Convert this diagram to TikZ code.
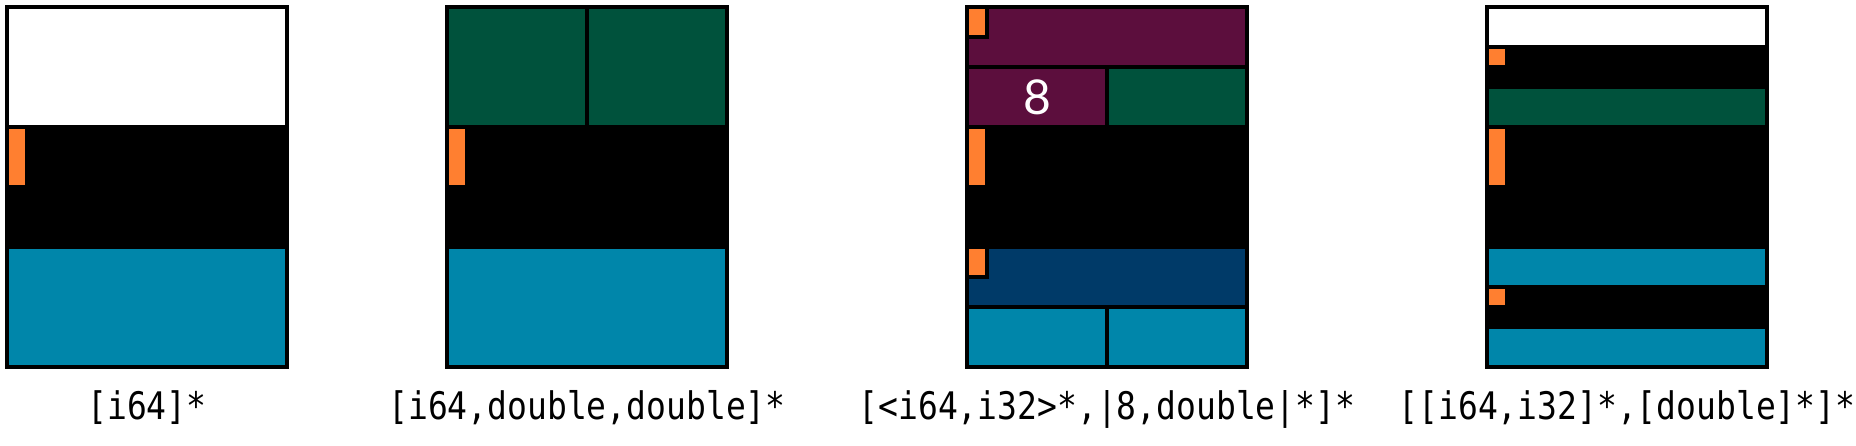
\documentclass[tikz,border=0pt]{standalone}
\usepackage{fontspec}
\newfontfamily\labelfont{DejaVu Sans Mono}
\newfontfamily\numfont{Lato}
\definecolor{cteal}{RGB}{0,134,170}
\definecolor{cgreen}{RGB}{0,82,60}
\definecolor{cpurple}{RGB}{92,14,61}
\definecolor{cnavy}{RGB}{0,58,104}
\definecolor{corange}{RGB}{255,127,48}
\begin{document}
\begin{tikzpicture}[x=1pt,y=-1pt,
  cell/.style={draw=black,line width=4pt},
  frame/.style={draw=black,line width=4pt},
  lbl/.style={font=\labelfont\fontsize{33}{40}\selectfont,inner sep=0pt,anchor=base},
  num/.style={font=\numfont\fontsize{48}{50}\selectfont,text=white,inner sep=0pt}]
\useasboundingbox[fill=white] (0,0) rectangle (1856,446);
% Panel 1
\begin{scope}[shift={(7,0)}]
  \path[cell,fill=white] (0,7) rectangle (280,127);
  \path[cell,fill=black] (0,127) rectangle (280,247);
  \path[cell,fill=corange] (0,127) rectangle (20,187);
  \path[cell,fill=cteal] (0,247) rectangle (280,367);
  \path[frame] (0,7) rectangle (280,367);
  \node[lbl] (l1) at (140,419) {\scalebox{1}[1.15]{[i64]*}};
\end{scope}
% Panel 2
\begin{scope}[shift={(447,0)}]
  \path[cell,fill=cgreen] (0,7) rectangle (140,127);
  \path[cell,fill=cgreen] (140,7) rectangle (280,127);
  \path[cell,fill=black] (0,127) rectangle (280,247);
  \path[cell,fill=corange] (0,127) rectangle (20,187);
  \path[cell,fill=cteal] (0,247) rectangle (280,367);
  \path[frame] (0,7) rectangle (280,367);
  \node[lbl] (l2) at (140,419) {\scalebox{1}[1.15]{[i64,double,double]*}};
\end{scope}
% Panel 3
\begin{scope}[shift={(967,0)}]
  \path[cell,fill=cpurple] (0,7) rectangle (280,67);
  \path[cell,fill=corange] (0,7) rectangle (20,37);
  \path[cell,fill=cpurple] (0,67) rectangle (140,127);
  \node[num] (n8) at (70,97) {8};
  \path[cell,fill=cgreen] (140,67) rectangle (280,127);
  \path[cell,fill=black] (0,127) rectangle (280,247);
  \path[cell,fill=corange] (0,127) rectangle (20,187);
  \path[cell,fill=cnavy] (0,247) rectangle (280,307);
  \path[cell,fill=corange] (0,247) rectangle (20,277);
  \path[cell,fill=cteal] (0,307) rectangle (140,367);
  \path[cell,fill=cteal] (140,307) rectangle (280,367);
  \path[frame] (0,7) rectangle (280,367);
  \node[lbl] (l3) at (140,419) {\scalebox{1}[1.15]{[<i64,i32>*,|8,double|*]*}};
\end{scope}
% Panel 4
\begin{scope}[shift={(1487,0)}]
  \path[cell,fill=white] (0,7) rectangle (280,47);
  \path[cell,fill=black] (0,47) rectangle (280,87);
  \path[cell,fill=corange] (0,47) rectangle (20,67);
  \path[cell,fill=cgreen] (0,87) rectangle (280,127);
  \path[cell,fill=black] (0,127) rectangle (280,247);
  \path[cell,fill=corange] (0,127) rectangle (20,187);
  \path[cell,fill=cteal] (0,247) rectangle (280,287);
  \path[cell,fill=black] (0,287) rectangle (280,327);
  \path[cell,fill=corange] (0,287) rectangle (20,307);
  \path[cell,fill=cteal] (0,327) rectangle (280,367);
  \path[frame] (0,7) rectangle (280,367);
  \node[lbl] (l4) at (140,419) {\scalebox{1}[1.15]{[[i64,i32]*,[double]*]*}};
\end{scope}
\end{tikzpicture}
\end{document}
